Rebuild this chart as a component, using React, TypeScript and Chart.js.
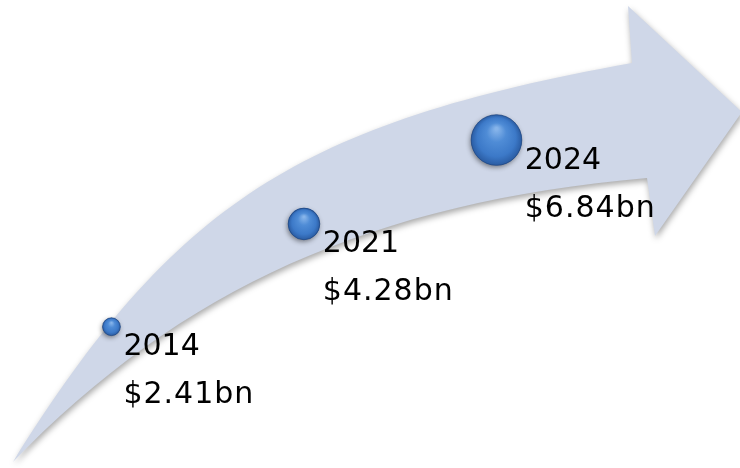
import React, { useEffect, useRef } from 'react';
import { Chart, registerables } from 'chart.js';

Chart.register(...registerables);

// ---- data ----
const years: string[] = ['2014', '2021', '2024'];
const marketValuesBn: number[] = [2.41, 4.28, 6.84];

// ---- style constants ----
const WIDTH = 740;
const HEIGHT = 468;
const RADIUS_PER_BN = 3.7;
const LABEL_FONT = '30px "DejaVu Sans", Verdana, sans-serif';
const ARROW_FILL = '#cfd7e8';

function formatValue(v: number): string {
  return '$' + v.toFixed(2) + 'bn';
}

// decorative arrow, drawn relative to the chart area (reference frame 740x468)
const arrowPlugin = {
  id: 'curvedArrow',
  beforeDatasetsDraw(chart: any) {
    const { ctx, chartArea: a } = chart;
    const sx = (x: number) => a.left + (x / WIDTH) * (a.right - a.left);
    const sy = (y: number) => a.top + (y / HEIGHT) * (a.bottom - a.top);
    ctx.save();
    ctx.shadowColor = 'rgba(0,0,0,0.35)';
    ctx.shadowBlur = 6;
    ctx.shadowOffsetX = 1;
    ctx.shadowOffsetY = 3;
    ctx.fillStyle = ARROW_FILL;
    ctx.beginPath();
    ctx.moveTo(sx(13), sy(462));
    ctx.bezierCurveTo(sx(175), sy(203), sx(299), sy(123), sx(632), sy(63));
    ctx.lineTo(sx(628), sy(6));
    ctx.lineTo(sx(742), sy(112));
    ctx.lineTo(sx(655), sy(236));
    ctx.lineTo(sx(647), sy(178));
    ctx.bezierCurveTo(sx(372), sy(202.5), sx(182), sy(287.7), sx(13), sy(462));
    ctx.closePath();
    ctx.fill();
    ctx.restore();
  },
};

const bubbleStylePlugin = {
  id: 'glossyBubbles',
  beforeDatasetDraw(chart: any) {
    const ctx = chart.ctx;
    ctx.save();
    ctx.shadowColor = 'rgba(0,0,0,0.45)';
    ctx.shadowBlur = 5;
    ctx.shadowOffsetX = -1;
    ctx.shadowOffsetY = 2;
  },
  afterDatasetDraw(chart: any, args: any) {
    const ctx = chart.ctx;
    ctx.restore();
    args.meta.data.forEach((el: any) => {
      const x = el.x;
      const y = el.y;
      const r = el.options.radius;
      const g = ctx.createRadialGradient(x, y - r * 0.45, r * 0.05, x, y, r);
      g.addColorStop(0, '#86b4ea');
      g.addColorStop(0.35, '#4f8cd6');
      g.addColorStop(0.75, '#3c79c8');
      g.addColorStop(1, '#2a5ca3');
      ctx.save();
      ctx.beginPath();
      ctx.arc(x, y, r, 0, Math.PI * 2);
      ctx.fillStyle = g;
      ctx.fill();
      ctx.lineWidth = 0.8;
      ctx.strokeStyle = 'rgba(30,65,120,0.8)';
      ctx.stroke();
      ctx.restore();
    });
  },
  afterDatasetsDraw(chart: any) {
    const ctx = chart.ctx;
    const meta = chart.getDatasetMeta(0);
    ctx.save();
    ctx.font = LABEL_FONT;
    ctx.fillStyle = '#000000';
    ctx.textAlign = 'left';
    ctx.textBaseline = 'alphabetic';
    meta.data.forEach((el: any, i: number) => {
      const r = el.options.radius;
      const tx = el.x + r + 3;
      (ctx as any).letterSpacing = '0px';
      ctx.fillText(years[i], tx, el.y + 28.5);
      (ctx as any).letterSpacing = '1px';
      ctx.fillText(formatValue(marketValuesBn[i]), tx, el.y + 76.5);
    });
    (ctx as any).letterSpacing = '0px';
    ctx.restore();
  },
};

export default function App() {
  const canvasRef = useRef<HTMLCanvasElement | null>(null);

  useEffect(() => {
    if (!canvasRef.current) return;
    const chart = new Chart(canvasRef.current, {
      type: 'bubble',
      data: {
        labels: years,
        datasets: [
          {
            label: 'Market size',
            data: marketValuesBn.map((v, i) => ({ x: i, y: v, r: v * RADIUS_PER_BN })),
            backgroundColor: '#3c79c8',
            borderColor: 'rgba(30,65,120,0.8)',
            borderWidth: 0,
            clip: false,
          },
        ],
      },
      options: {
        responsive: false,
        animation: false,
        events: [],
        layout: { padding: 0, autoPadding: false },
        plugins: {
          legend: { display: false },
          tooltip: { enabled: false },
          title: { display: false },
        },
        scales: {
          x: {
            type: 'linear',
            display: false,
            bounds: 'data',
            min: -0.579,
            max: 3.265,
          },
          y: {
            type: 'logarithmic',
            display: false,
            bounds: 'data',
            min: 1.094,
            max: 14.96,
          },
        },
      },
      plugins: [arrowPlugin, bubbleStylePlugin],
    });
    return () => chart.destroy();
  }, []);

  return (
    <div style={{ position: 'absolute', left: 0, top: 0, width: WIDTH, height: HEIGHT, background: '#ffffff' }}>
      <canvas ref={canvasRef} width={WIDTH} height={HEIGHT} style={{ display: 'block' }} />
    </div>
  );
}
